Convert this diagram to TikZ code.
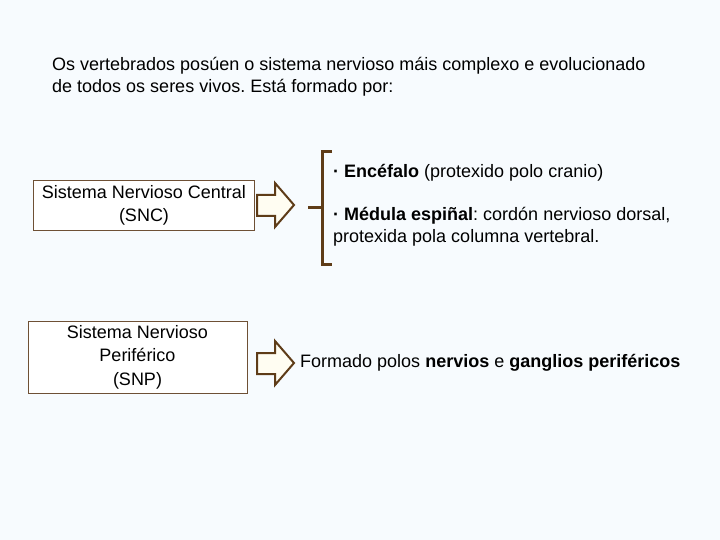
\documentclass[tikz,border=0pt]{standalone}
\usepackage{fontspec}
\setmainfont{Liberation Sans}
\frenchspacing
\definecolor{bg}{HTML}{F7FBFE}
\definecolor{brn}{HTML}{5E3C18}
\definecolor{boxline}{HTML}{6E5035}
\definecolor{cream}{HTML}{FFFDF2}
\newcommand{\bul}{\textbf{·}}
\begin{document}
\begin{tikzpicture}[x=1pt,y=-1pt,
  txt/.style={inner sep=0pt,font=\fontsize{18}{22}\selectfont},
  sysbox/.style={draw=boxline,line width=0.8pt,fill=white,align=center,inner sep=0pt,font=\fontsize{18}{23.5}\selectfont},
  fatarrow/.style={draw=brn,line width=2pt,fill=cream,line join=miter}]
\fill[bg] (0,0) rectangle (720,540);
\useasboundingbox (0,0) rectangle (720,540);
\node[txt,anchor=west,align=left] (title) at (52,77) {Os vertebrados posúen o sistema nervioso máis complexo e evolucionado\\de todos os seres vivos. Está formado por:};
\node[sysbox,minimum width=221pt,minimum height=50pt] (snc) at (144,205.5) {Sistema Nervioso Central\\(SNC)};
\node[sysbox,minimum width=219pt,minimum height=72pt] (snp) at (137.5,357) {Sistema Nervioso\\Periférico\\(SNP)};
% arrows
\coordinate (a1) at (257,205);
\draw[fatarrow] (257,195) -- (275,195) -- (275,183) -- (294,205) -- (275,227) -- (275,216) -- (257,216) -- cycle;
\coordinate (a2) at (257,363);
\draw[fatarrow] (257,353) -- (275,353) -- (275,341) -- (294,363) -- (275,385) -- (275,374) -- (257,374) -- cycle;
% bracket
\draw[brn,line width=3pt] (332,152) -- (322,152) -- (322,264) -- (332,264);
\draw[brn,line width=3pt] (308,208) -- (322,208);
\node[txt,anchor=west] (enc) at (333,173) {\bul{} \textbf{Encéfalo} (protexido polo cranio)};
\node[txt,anchor=west,align=left] (med) at (333,227) {\bul{} \textbf{Médula espiñal}: cordón nervioso dorsal,\\protexida pola columna vertebral.};
\node[txt,anchor=west] (form) at (300,363) {Formado polos \textbf{nervios} e \textbf{ganglios periféricos}};
\end{tikzpicture}
\end{document}
